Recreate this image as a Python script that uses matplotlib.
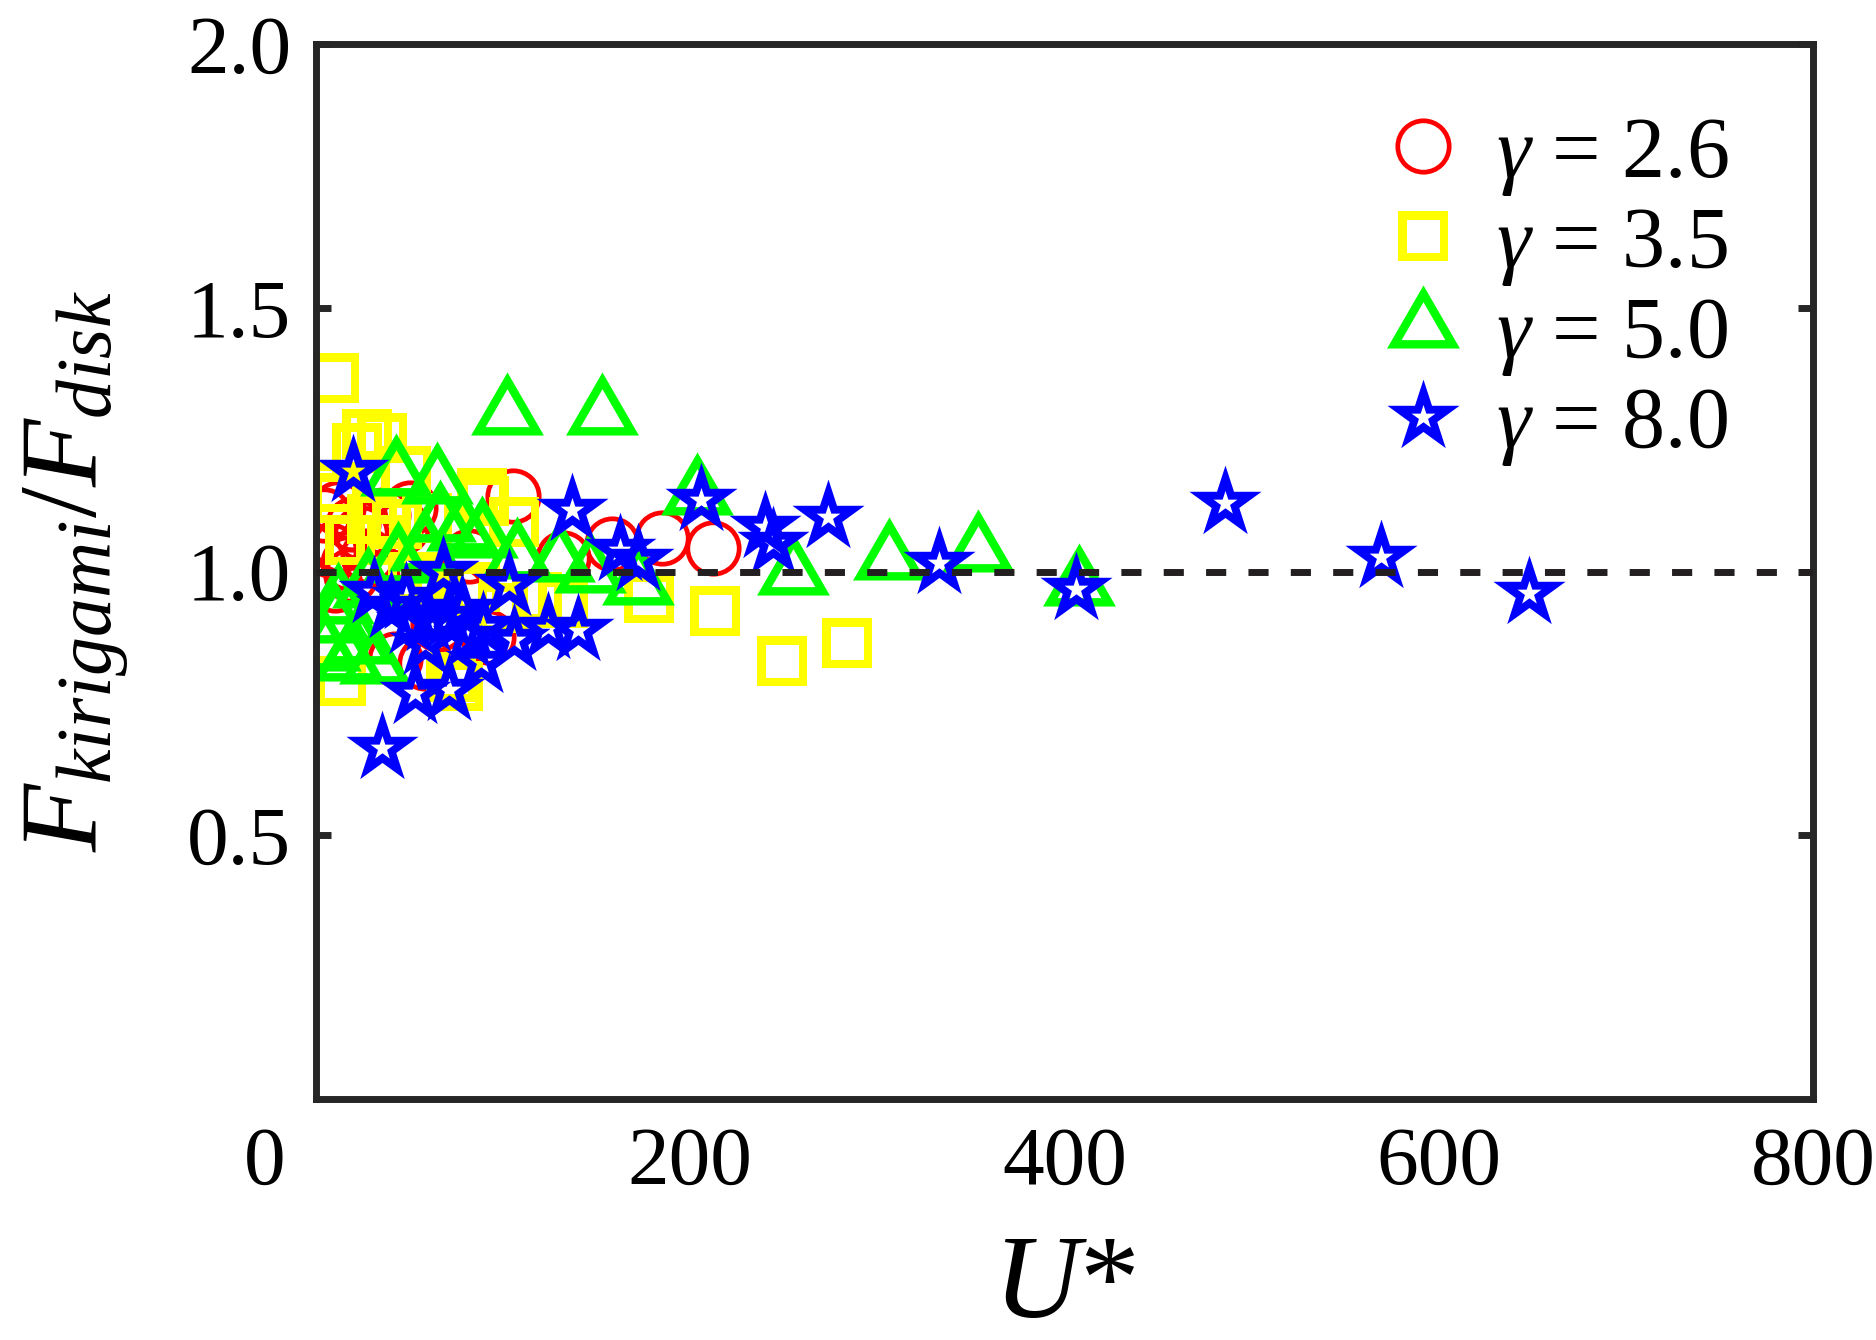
import numpy as np
import matplotlib
matplotlib.use("Agg")
import matplotlib.pyplot as plt
from matplotlib.path import Path

plt.rcParams['font.family'] = ['Liberation Serif', 'DejaVu Serif']
plt.rcParams['mathtext.fontset'] = 'custom'
plt.rcParams['mathtext.rm'] = 'Liberation Serif'
plt.rcParams['mathtext.it'] = 'Liberation Serif:italic'

# ---- data ----
labels = [r'$\gamma$ = 2.6', r'$\gamma$ = 3.5', r'$\gamma$ = 5.0', r'$\gamma$ = 8.0']

x_g26 = [105.5, 132, 158, 185, 212, 4.5, 7.6, 13, 17, 24, 18.5, 10, 36, 46, 50, 12, 20, 28,
         82, 42, 58, 92, 76, 65, 30]
y_g26 = [1.143, 1.026, 1.052, 1.064, 1.045, 1.107, 1.04, 1.05, 1.016, 1.073, 0.993, 0.975, 1.107,
         1.084, 1.12, 1.12, 1.09, 1.03, 1.03, 0.835, 0.826, 0.876, 0.959, 0.90, 0.99]

x_g35 = [9.7, 27.5, 35.5, 22, 48, 89.7, 105.7, 13.3, 11.5, 43.5, 59.5, 72, 177.7, 213, 249, 284,
         10, 35, 88.6, 78, 18, 30, 52, 65, 85, 118, 132, 100, 76]
y_g35 = [1.366, 1.26, 1.254, 1.235, 1.19, 1.134, 1.093, 0.792, 1.14, 1.09, 1.102, 0.80, 0.95, 0.925,
         0.83, 0.865, 1.161, 1.06, 1.148, 0.965, 1.06, 1.10, 0.99, 0.95, 0.97, 0.952, 0.94, 0.93, 0.782]

x_g50 = [102, 153, 203.5, 255, 306, 354, 408, 172, 146.6, 43, 64.5, 66, 88.6, 107.5, 44, 58, 78,
         12, 10, 5, 17, 22.5, 31.5, 28, 130]
y_g50 = [1.298, 1.298, 1.147, 0.995, 1.023, 1.039, 0.975, 0.976, 1.0, 1.183, 1.167, 1.095, 1.065,
         1.026, 1.018, 1.04, 1.079, 0.94, 0.905, 0.851, 0.832, 0.864, 0.826, 0.97, 1.02]

x_g80 = [20, 35.5, 53, 71, 88, 106, 124, 140, 137, 162.5, 172, 206, 240, 244, 273.6, 333, 406,
         486, 569, 648, 31, 40, 51, 60, 58, 68, 71, 78, 81, 89, 103, 48]
y_g80 = [1.19, 0.665, 0.77, 0.775, 0.828, 0.87, 0.893, 0.89, 1.117, 1.041, 1.022, 1.136, 1.085,
         1.054, 1.104, 1.016, 0.966, 1.13, 1.027, 0.959, 0.962, 0.933, 0.902, 0.908, 0.862, 0.999,
         0.914, 0.927, 0.876, 0.895, 0.975, 0.95]

ref_y = 1.0
xticks = [0, 200, 400, 600, 800]
yticks = [0.5, 1.0, 1.5, 2.0]


# ---- hollow marker shapes (outline ring as a filled compound path) ----
def ring(outer, inner_scale):
    outer = [tuple(v) for v in outer]
    inner = [(vx * inner_scale, vy * inner_scale) for vx, vy in outer][::-1]
    verts = outer + [outer[0]] + inner + [inner[0]]
    n = len(outer)
    codes = ([Path.MOVETO] + [Path.LINETO] * (n - 1) + [Path.CLOSEPOLY]) * 2
    return Path(verts, codes)


ang = np.deg2rad(90 + 36 * np.arange(10))
rad = np.where(np.arange(10) % 2 == 0, 1.0, 0.382)
star_path = ring(np.column_stack([rad * np.cos(ang), rad * np.sin(ang)]), 0.33)
tri_path = ring([(0, 1), (-0.866, -0.5), (0.866, -0.5)], 0.60)
sq_path = ring([(-1, -1), (1, -1), (1, 1), (-1, 1)], 0.66)

# ---- figure ----
W, H, DPI = 1876, 1340, 200
fig = plt.figure(figsize=(W / DPI, H / DPI), dpi=DPI)
ax = fig.add_axes([316 / W, 1 - 1099 / H, (1813 - 316) / W, (1099 - 44) / H])

ax.plot(x_g26, y_g26, linestyle='none', marker='o', ms=18.5, mfc='none', mec='#ff0000', mew=1.7,
        label=labels[0])
ax.plot(x_g35, y_g35, linestyle='none', marker=sq_path, ms=18, mfc='#ffff00', mec='none', mew=0,
        label=labels[1])
ax.plot(x_g50, y_g50, linestyle='none', marker=tri_path, ms=30.3, mfc='#00ff00', mec='none', mew=0,
        label=labels[2])
ax.plot(x_g80, y_g80, linestyle='none', marker=star_path, ms=27.3, mfc='#0000ff', mec='none', mew=0,
        label=labels[3])

ax.axhline(ref_y, color='#231f20', lw=2.5, dashes=(2.9, 3.2), zorder=10)

ax.set_xlim(0, 800)
ax.set_ylim(0, 2.0)
ax.set_xticks(xticks)
ax.set_xticklabels([''] + [str(v) for v in xticks[1:]])
ax.set_yticks(yticks)
ax.set_yticklabels(['%.1f' % v for v in yticks])

for s in ax.spines.values():
    s.set_linewidth(2.5)
    s.set_color('#262626')
ax.tick_params(axis='y', which='both', direction='in', length=5.5, width=2.5, color='#262626',
               left=True, right=True, labelsize=30, pad=9)
ax.tick_params(axis='x', which='both', direction='in', length=0, width=2.5,
               labelsize=30, pad=10)
ax.annotate('0', xy=(0, 0), xycoords=('data', 'axes fraction'), xytext=(-18.4, -10),
            textcoords='offset points', ha='center', va='top', fontsize=30)

ax.set_xlabel(r'$U$*', fontsize=43)
ax.set_ylabel(r'$F_{kirigami}/F_{disk}$', fontsize=40)
ax.xaxis.set_label_coords(0.5, -0.128)
ax.yaxis.set_label_coords(-0.123, 0.5)

leg = ax.legend(loc='upper left', bbox_to_anchor=(1380 / W, 1 - 116 / H),
                bbox_transform=fig.transFigure, frameon=False, fontsize=31, numpoints=1,
                handlelength=1.0, handletextpad=0.35, labelspacing=0.1, borderpad=0,
                borderaxespad=0)

fig.savefig('out.png', dpi=DPI)
